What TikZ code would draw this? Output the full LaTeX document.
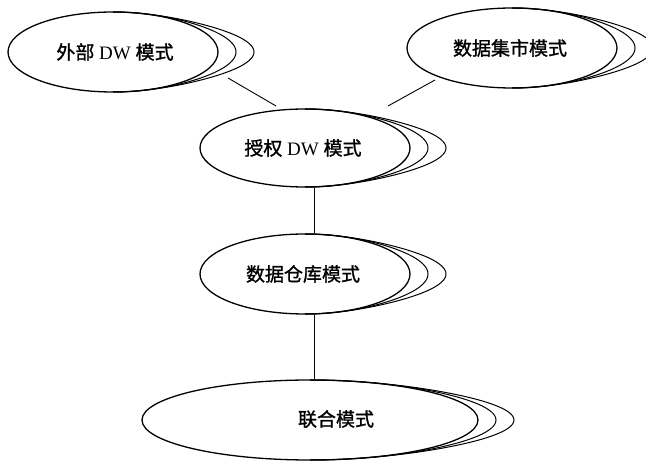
\documentclass[tikz,border=0pt]{standalone}
\usepackage{fontspec}
\setmainfont{Liberation Serif}
\newfontfamily\cjk{Noto Sans CJK SC}[FakeBold=1.2]
\usetikzlibrary{shapes.geometric}
\newcommand\shadowarcs[4]{%
  \foreach \k in {1,2}{%
    \draw[backarc] plot[domain=-90:90,samples=61,smooth]
      ({#1+(#3+18*\k*cos(\x)*cos(\x))*cos(\x)},{#2+#4*sin(\x)});}}
\begin{document}
\begin{tikzpicture}[x=1pt,y=-1pt,
  schema/.style={draw, ellipse, line width=1.3pt, inner sep=0pt,
    minimum width=210pt, minimum height=80pt},
  lbl/.style={font=\fontsize{19}{22}\selectfont, inner sep=0pt},
  backarc/.style={line width=1pt},
  link/.style={line width=0.9pt}]
\useasboundingbox (0,0) rectangle (646,462);

% shadow arcs behind each schema ellipse
\shadowarcs{113}{52}{105}{40}
\shadowarcs{512}{48}{105}{40}
\shadowarcs{305}{148}{105}{39}
\shadowarcs{305}{274}{105}{40}
\shadowarcs{310}{420}{168}{40}

% schema ellipses
\node[schema] (e1) at (113,52) {};
\node[lbl] (t1) at (115,52) {{\cjk 外部} DW {\cjk 模式}};
\node[schema] (e2) at (512,48) {};
\node[lbl] (t2) at (510,48) {\cjk 数据集市模式};
\node[schema, minimum height=78pt] (e3) at (305,148) {};
\node[lbl] (t3) at (303,148) {{\cjk 授权} DW {\cjk 模式}};
\node[schema] (e4) at (305,274) {};
\node[lbl] (t4) at (303,274) {\cjk 数据仓库模式};
\node[schema, minimum width=336pt] (e5) at (310,420) {};
\node[lbl] (t5) at (336,419) {\cjk 联合模式};

% connectors
\coordinate (a1) at (228,78);
\coordinate (a3l) at (276,106);
\coordinate (a2) at (435,80);
\coordinate (a3r) at (388,106);
\coordinate (v) at (314,0);
\draw[link] (a1) -- (a3l);
\draw[link] (a2) -- (a3r);
\draw[link] (e3.south -| v) -- (e4.north -| v);
\draw[link] (e4.south -| v) -- (e5.north -| v);
\end{tikzpicture}
\end{document}
